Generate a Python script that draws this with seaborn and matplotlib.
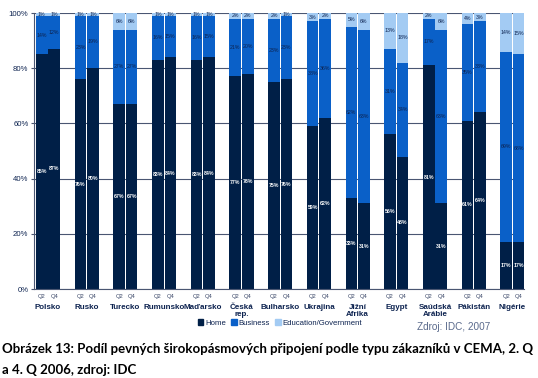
import numpy as np
import pandas as pd
import matplotlib.pyplot as plt
import matplotlib.transforms as mtransforms
from matplotlib.patches import Patch
import seaborn as sns

# Data (percent)
countries = ['Polsko', 'Rusko', 'Turecko', 'Rumunsko', 'Maďarsko', 'Česká\nrep.',
             'Bulharsko', 'Ukrajina', 'Jižní\nAfrika', 'Egypt', 'Saúdská\nArábie',
             'Pákistán', 'Nigérie']
quarters = ['Q2', 'Q4']
home_q2 = [85, 76, 67, 83, 83, 77, 75, 59, 33, 56, 81, 61, 17]
home_q4 = [87, 80, 67, 84, 84, 78, 76, 62, 31, 48, 31, 64, 17]
business_q2 = [14, 23, 27, 16, 16, 21, 23, 38, 62, 31, 17, 35, 69]
business_q4 = [12, 19, 27, 15, 15, 20, 23, 36, 63, 34, 63, 33, 68]
edu_q2 = [1, 1, 6, 1, 1, 2, 2, 3, 5, 13, 2, 4, 14]
edu_q4 = [1, 1, 6, 1, 1, 2, 1, 2, 6, 18, 6, 3, 15]
series_names = ['Home', 'Business', 'Education/Government']

# Colours
c_home = '#001f47'
c_business = '#0a60c8'
c_edu = '#a3cbf3'
c_text = '#0d2350'
c_grid = '#4a5672'

# Long table for seaborn
rows = []
for i, c in enumerate(countries):
    for q, h, b, e in (('Q2', home_q2[i], business_q2[i], edu_q2[i]),
                       ('Q4', home_q4[i], business_q4[i], edu_q4[i])):
        rows.append(dict(country=c, quarter=q, home=h, business=b, edu=e,
                         hb=h + b, total=h + b + e))
df = pd.DataFrame(rows)

sns.set_style('white')
plt.rcParams['font.family'] = ['Liberation Sans', 'DejaVu Sans']

fig = plt.figure(figsize=(5.38, 3.78), dpi=100)
ax = fig.add_axes([34 / 538, 1 - 289 / 378, (524 - 34) / 538, (289 - 13) / 378])

bar_w = 0.645
gap = 0.07
# stacked look: draw cumulative totals back to front
for col, colour in (('total', c_edu), ('hb', c_business), ('home', c_home)):
    sns.barplot(data=df, x='country', y=col, hue='quarter', hue_order=quarters,
                order=countries, palette=[colour, colour], width=bar_w, gap=gap,
                saturation=1, legend=False, linewidth=0, ax=ax, zorder=2)

# segment labels
for _, r in df.iterrows():
    i = countries.index(r['country'])
    x = i + (quarters.index(r['quarter']) - 0.5) * bar_w / 2
    ax.text(x, r['home'] / 2, f"{r['home']}%", ha='center', va='center',
            fontsize=3.8, color='white', fontweight='bold', zorder=3)
    ax.text(x, r['home'] + r['business'] / 2, f"{r['business']}%", ha='center',
            va='center', fontsize=3.8, color=c_text, zorder=3)
    ax.text(x, r['hb'] + r['edu'] / 2, f"{r['edu']}%", ha='center',
            va='center', fontsize=3.8, color=c_text, zorder=3)

# Q2 / Q4 sub labels
trans = mtransforms.blended_transform_factory(ax.transData, ax.transAxes)
for i in range(len(countries)):
    for j, q in enumerate(quarters):
        ax.text(i + (j - 0.5) * bar_w / 2, -0.018, q, transform=trans,
                ha='center', va='top', fontsize=4.2, color='#3a4768')

ax.set_xlim(-0.362, 12.3)
ax.set_ylim(0, 100)
ax.set_yticks(np.arange(0, 101, 20))
ax.set_yticklabels([f'{v}%' for v in range(0, 101, 20)])
ax.set_xticks(range(len(countries)))
ax.set_xticklabels(countries, fontsize=5.8, fontweight='bold', color=c_text,
                   linespacing=1.0, va='top')
ax.tick_params(axis='x', length=0, pad=11)
ax.tick_params(axis='y', length=2.5, width=0.8, color=c_grid, labelsize=5.6,
               labelcolor=c_text, pad=1.5, direction='out', left=True)
ax.set_xlabel('')
ax.set_ylabel('')

ax.yaxis.grid(True, color=c_grid, linewidth=0.8)
ax.set_axisbelow(True)
for s in ('top', 'right'):
    ax.spines[s].set_visible(False)
for s in ('left', 'bottom'):
    ax.spines[s].set_color(c_grid)
    ax.spines[s].set_linewidth(0.8)

handles = [Patch(color=c) for c in (c_home, c_business, c_edu)]
leg = fig.legend(handles, series_names, loc='center',
                 bbox_to_anchor=(280 / 538, 1 - 323 / 378), ncol=3, frameon=False,
                 fontsize=5.6, handlelength=0.7, handleheight=0.7,
                 handletextpad=0.25, columnspacing=0.7, borderpad=0)
for t in leg.get_texts():
    t.set_color(c_text)

fig.text(417 / 538, 1 - 327 / 378, 'Zdroj: IDC, 2007', fontsize=7.2,
         color='#5a6a8c', va='center', ha='left')

cap1 = 'Obrázek 13: Podíl pevných širokopásmových připojení podle typu zákazníků v CEMA, 2. Q'
cap2 = 'a 4. Q 2006, zdroj: IDC'
fig.text(2 / 538, 1 - 349 / 378, cap1, fontsize=9.5, fontweight='bold',
         family='Lato', va='center', ha='left', color='black')
fig.text(2 / 538, 1 - 370 / 378, cap2, fontsize=9.5, fontweight='bold',
         family='Lato', va='center', ha='left', color='black')

fig.savefig('out.png', dpi=100)
